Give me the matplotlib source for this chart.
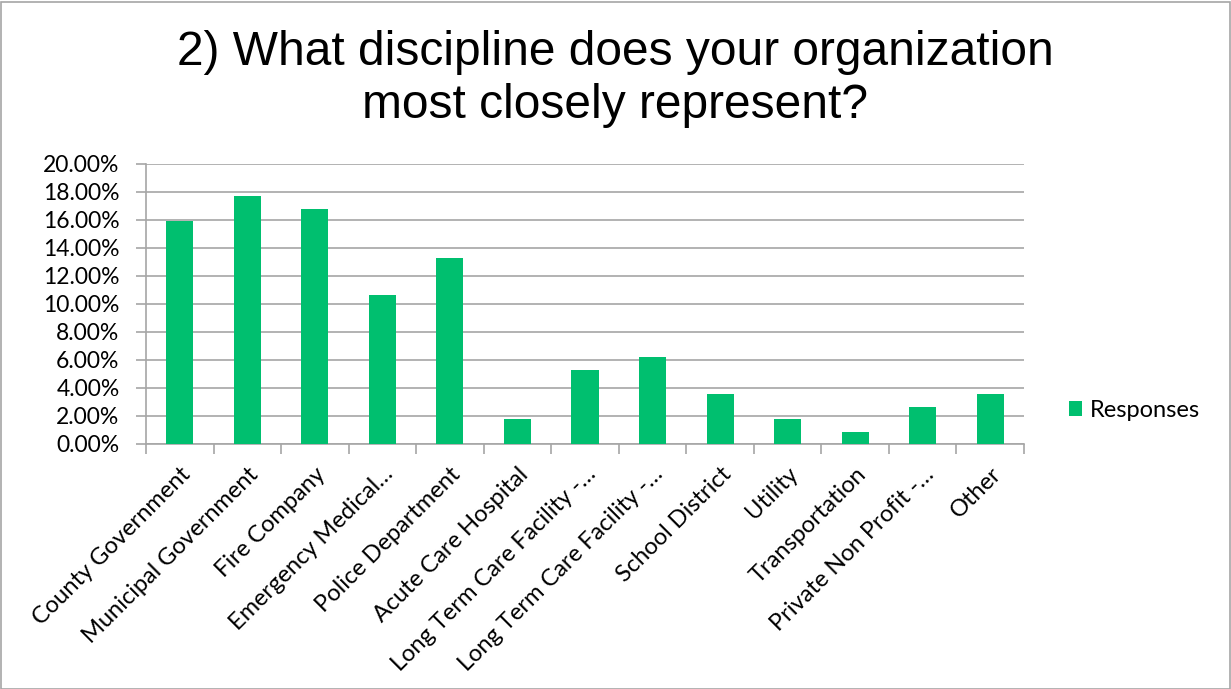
import matplotlib
matplotlib.use("Agg")
import matplotlib.pyplot as plt
from matplotlib.patches import Rectangle
from matplotlib.ticker import FuncFormatter

# Survey question 2: share of responses per discipline
categories = [
    "County Government",
    "Municipal Government",
    "Fire Company",
    "Emergency Medical…",
    "Police Department",
    "Acute Care Hospital",
    "Long Term Care Facility -…",
    "Long Term Care Facility -…",
    "School District",
    "Utility",
    "Transportation",
    "Private Non Profit -…",
    "Other",
]
responses = [15.93, 17.70, 16.81, 10.62, 13.27, 1.77, 5.31, 6.19, 3.54, 1.77, 0.88, 2.65, 3.54]

title = "2) What discipline does your organization\nmost closely represent?"
series_name = "Responses"

green = "#00bf6f"
grid_gray = "#a6a6a6"
label_font = ["Lato", "DejaVu Sans"]

W, H = 1231, 689
fig = plt.figure(figsize=(W / 100, H / 100), dpi=100)
fig.patch.set_facecolor("white")

# thin frame round the whole chart
fig.patches.append(Rectangle((0.5 / W, 0.5 / H), 1 - 2 / W, 1 - 2 / H,
                             transform=fig.transFigure, fill=False,
                             edgecolor="#a6a6a6", linewidth=1.2))

fig.text(0.5, 1 - 79 / H, title, ha="center", va="center", fontsize=34.5,
         family=["Liberation Sans", "DejaVu Sans"], linespacing=1.25)

ax = fig.add_axes([146 / W, 1 - 444 / H, 878 / W, 280 / H])
x = list(range(len(categories)))
bars = ax.bar(x, responses, width=0.4, color=green, label=series_name, zorder=3)

ax.set_xlim(-0.5, len(categories) - 0.5)
ax.set_ylim(0, 20)
ax.set_yticks([i * 2 for i in range(11)])
ax.yaxis.set_major_formatter(FuncFormatter(lambda v, p: "%.2f%%" % v))
ax.grid(axis="y", color=grid_gray, linewidth=1.2, zorder=0)

for s in ["top", "right"]:
    ax.spines[s].set_visible(False)
for s in ["left", "bottom"]:
    ax.spines[s].set_color(grid_gray)
    ax.spines[s].set_linewidth(1.2)

ax.set_xticks(x)
ax.set_xticklabels(categories, rotation=45, ha="right", rotation_mode="anchor",
                   fontsize=17, family=label_font)
ax.tick_params(axis="x", which="major", length=0, pad=14)
ax.set_xticks([i - 0.5 for i in range(len(categories) + 1)], minor=True)
ax.tick_params(axis="x", which="minor", length=7, color=grid_gray, width=1.2)
ax.tick_params(axis="y", length=7, color=grid_gray, width=1.2, pad=12)
for t in ax.get_yticklabels():
    t.set_fontsize(16.5)
    t.set_family(label_font)

leg = ax.legend(loc="center left", bbox_to_anchor=(1.027, 0.12), frameon=False,
                handlelength=0.55, handleheight=0.55, handletextpad=0.35,
                prop={"family": label_font, "size": 17})

fig.savefig("out.png", dpi=100)
